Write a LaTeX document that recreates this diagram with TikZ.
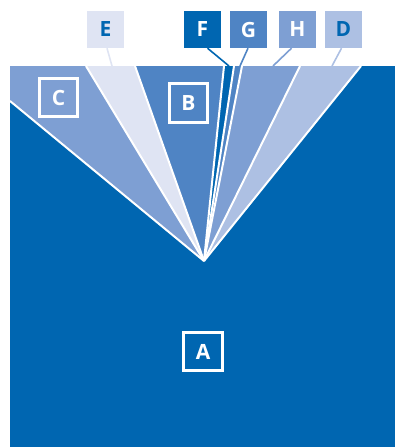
\documentclass[tikz,border=0pt]{standalone}
\usepackage{fontspec}
\setmainfont{Open Sans}
\usepackage{tikz}
\definecolor{segA}{HTML}{0066B1}
\definecolor{segB}{HTML}{4F84C4}
\definecolor{segC}{HTML}{7E9FD3}
\definecolor{segE}{HTML}{DFE4F3}
\definecolor{segD}{HTML}{ADC0E3}

\begin{document}
\begin{tikzpicture}[x=1pt, y=-1pt,
  tag/.style={minimum size=37pt, inner sep=0pt, font=\fontsize{21}{21}\selectfont\bfseries},
  inbox/.style={draw=white, line width=2.6pt, minimum size=38.5pt, inner sep=0pt,
    text=white, font=\fontsize{21}{21}\selectfont\bfseries},
  sep/.style={white, line width=2pt},
  lead/.style={line width=1.6pt}]
  \useasboundingbox (0,0) rectangle (395,447);

  % background block A and the fan apex
  \fill[segA] (10,66) rectangle (395,447);
  \coordinate (apex) at (204,261);

  % fan wedges, left to right
  \fill[segC] (apex) -- (10,101) -- (10,66) -- (86,66) -- cycle;
  \foreach \a/\b/\c in {
    86/135/segE,
    135/224/segB,
    224/234/segA,
    234/242/segB,
    242/300/segC,
    300/361/segD}{
    \fill[\c] (apex) -- (\a,66) -- (\b,66) -- cycle;
  }
  \draw[sep] (apex) -- (10,101);
  \foreach \x in {86,135,224,234,242,300,361}{
    \draw[sep] (apex) -- (\x,66);
  }

  % labels inside the block
  \node[inbox] (C) at (58.5,97.5) {C};
  \node[inbox] (B) at (188.5,103) {B};
  \node[inbox] (A) at (203,351.5) {A};

  % labels above the block
  \node[tag, fill=segE, text=segA] (E) at (105.5,29.5) {E};
  \node[tag, fill=segA, text=white] (F) at (202.5,29.5) {F};
  \node[tag, fill=segB, text=white] (G) at (248.5,29.5) {G};
  \node[tag, fill=segC, text=white] (H) at (297.5,29.5) {H};
  \node[tag, fill=segD, text=segA] (D) at (343.5,29.5) {D};

  % leaders to the wedges
  \coordinate (eE) at (112,66);
  \coordinate (eF) at (229,66);
  \coordinate (eG) at (240,66);
  \coordinate (eH) at (273,66);
  \coordinate (eD) at (332,66);
  \draw[lead, segE] ([xshift=1.5pt]E.south) -- (eE);
  \draw[lead, segA] ([xshift=5pt]F.south) -- (eF);
  \draw[lead, segB] ([xshift=-0.5pt]G.south) -- (eG);
  \draw[lead, segC] ([xshift=-6pt]H.south) -- (eH);
  \draw[lead, segD] ([xshift=-2pt]D.south) -- (eD);
\end{tikzpicture}
\end{document}
